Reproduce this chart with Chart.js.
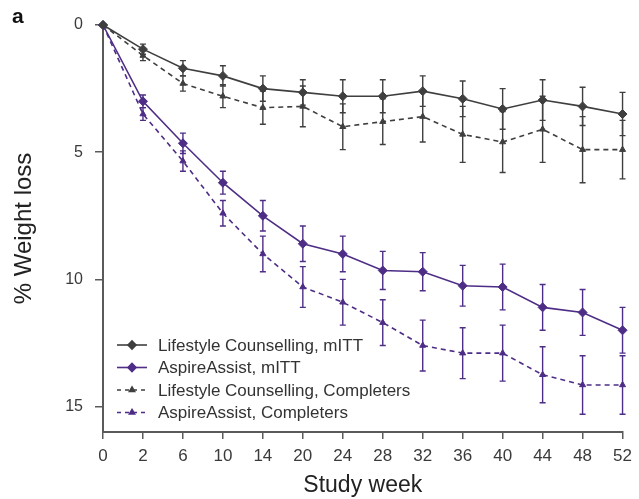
<!DOCTYPE html>
<html>
<head>
<meta charset="utf-8">
<script src="https://cdn.jsdelivr.net/npm/chart.js@4.4.1/dist/chart.umd.min.js"></script>
<style>
  html, body { margin: 0; padding: 0; background: #fff; }
  #wrap { position: relative; width: 639px; height: 499px; }
</style>
</head>
<body>
<div id="wrap"><canvas id="chart" width="639" height="499"></canvas></div>
<script>
// Study weeks are evenly spaced categories on the x axis
const weeks = ["0", "2", "6", "10", "14", "20", "24", "28", "32", "36", "40", "44", "48", "52"];
const yTicks = [0, 5, 10, 15];

// % weight loss (mean) and error bar half-heights
const lcItt = [0, 0.95, 1.7, 2.0, 2.5, 2.65, 2.8, 2.8, 2.6, 2.9, 3.3, 2.95, 3.2, 3.5];
const lcIttErr = [0, 0.2, 0.3, 0.4, 0.5, 0.5, 0.65, 0.65, 0.6, 0.7, 0.8, 0.8, 0.75, 0.85];
const aaItt = [0, 3.0, 4.65, 6.2, 7.5, 8.6, 9.0, 9.65, 9.7, 10.25, 10.3, 11.1, 11.3, 12.0];
const aaIttErr = [0, 0.25, 0.4, 0.45, 0.6, 0.7, 0.7, 0.75, 0.75, 0.8, 0.9, 0.9, 0.9, 0.9];
const lcComp = [0, 1.2, 2.3, 2.8, 3.25, 3.2, 4.0, 3.8, 3.6, 4.3, 4.6, 4.1, 4.9, 4.9];
const lcCompErr = [0, 0.2, 0.3, 0.45, 0.65, 0.8, 0.9, 0.9, 1.0, 1.1, 1.2, 1.3, 1.3, 1.15];
const aaComp = [0, 3.5, 5.35, 7.4, 9.0, 10.3, 10.9, 11.7, 12.6, 12.9, 12.9, 13.75, 14.15, 14.15];
const aaCompErr = [0, 0.25, 0.4, 0.5, 0.7, 0.8, 0.9, 0.9, 1.0, 1.0, 1.1, 1.1, 1.15, 1.15];

const GREY = "#3f3f3f";
const PURPLE = "#4e2d86";
const FONT = "'Liberation Sans', Arial, Helvetica, sans-serif";

function series(label, data, err, color, style, dashed) {
  return {
    label,
    data,
    errors: err,
    borderColor: color,
    backgroundColor: color,
    pointBackgroundColor: color,
    pointBorderColor: color,
    pointStyle: style,
    pointRadius: style === "triangle" ? 3.5 : 4.5,
    pointBorderWidth: 1,
    borderWidth: 1.6,
    borderDash: dashed ? [5, 4] : [],
    tension: 0,
    fill: false,
    clip: false,
  };
}

// vertical error bars with short caps, placed through the chart's scales
const errorBars = {
  id: "errorBars",
  beforeDatasetsDraw(chart) {
    const { ctx } = chart;
    const yScale = chart.scales.y;
    chart.data.datasets.forEach((ds, i) => {
      const meta = chart.getDatasetMeta(i);
      ctx.save();
      ctx.strokeStyle = ds.borderColor;
      ctx.lineWidth = 1.4;
      meta.data.forEach((pt, j) => {
        const e = ds.errors[j];
        if (!e) return;
        const y1 = yScale.getPixelForValue(ds.data[j] - e);
        const y2 = yScale.getPixelForValue(ds.data[j] + e);
        ctx.beginPath();
        ctx.moveTo(pt.x, y1);
        ctx.lineTo(pt.x, y2);
        ctx.moveTo(pt.x - 3, y1);
        ctx.lineTo(pt.x + 3, y1);
        ctx.moveTo(pt.x - 3, y2);
        ctx.lineTo(pt.x + 3, y2);
        ctx.stroke();
      });
      ctx.restore();
    });
  },
};

// legend inside the plot: line + marker, then label; also the panel letter
const insideLegend = {
  id: "insideLegend",
  afterDraw(chart) {
    const { ctx } = chart;
    const x0 = 117, x1 = 147, tx = 158;
    let y = 345;
    ctx.save();
    chart.data.datasets.forEach((ds) => {
      ctx.strokeStyle = ds.borderColor;
      ctx.fillStyle = ds.borderColor;
      ctx.lineWidth = 1.6;
      ctx.setLineDash(ds.borderDash.length ? [4, 4] : []);
      ctx.beginPath();
      ctx.moveTo(x0, y);
      ctx.lineTo(x1, y);
      ctx.stroke();
      ctx.setLineDash([]);
      Chart.helpers.drawPoint(ctx, {
        pointStyle: ds.pointStyle,
        radius: ds.pointStyle === "triangle" ? 3 : 4,
        rotation: 0,
        borderWidth: 1,
      }, (x0 + x1) / 2, y);
      ctx.fillStyle = "#333";
      ctx.font = "17px " + FONT;
      ctx.textBaseline = "middle";
      ctx.fillText(ds.label, tx, y + 1);
      y += 22.5;
    });
    ctx.fillStyle = "#111";
    ctx.font = "bold 21px " + FONT;
    ctx.textBaseline = "alphabetic";
    ctx.fillText("a", 12, 23);
    ctx.restore();
  },
};

new Chart(document.getElementById("chart"), {
  type: "line",
  data: {
    labels: weeks,
    datasets: [
      series("Lifestyle Counselling, mITT", lcItt, lcIttErr, GREY, "rectRot", false),
      series("AspireAssist, mITT", aaItt, aaIttErr, PURPLE, "rectRot", false),
      series("Lifestyle Counselling, Completers", lcComp, lcCompErr, GREY, "triangle", true),
      series("AspireAssist, Completers", aaComp, aaCompErr, PURPLE, "triangle", true),
    ],
  },
  options: {
    responsive: false,
    animation: false,
    layout: { padding: { left: 0, right: 14, top: 25, bottom: 0 } },
    plugins: { legend: { display: false }, tooltip: { enabled: false } },
    scales: {
      x: {
        type: "category",
        offset: false,
        grid: { display: true, drawOnChartArea: false, drawTicks: true, tickLength: 7, color: "#5a5a5a", lineWidth: 1.5 },
        border: { display: true, color: "#5a5a5a", width: 2 },
        ticks: { color: "#3a3a3a", font: { family: FONT, size: 17 }, padding: 7, maxRotation: 0, autoSkip: false },
        title: { display: true, text: "Study week", color: "#222", font: { family: FONT, size: 23 }, padding: { top: 0, bottom: 0 } },
        afterFit(scale) { scale.height = 67; },
      },
      y: {
        reverse: true,
        min: 0,
        max: 16,
        afterBuildTicks(scale) { scale.ticks = yTicks.map((v) => ({ value: v })); },
        grid: { display: true, drawOnChartArea: false, drawTicks: true, tickLength: 8, color: "#5a5a5a", lineWidth: 1.5 },
        border: { display: true, color: "#5a5a5a", width: 2 },
        ticks: { color: "#3a3a3a", font: { family: FONT, size: 16 }, padding: 12 },
        title: { display: true, text: "% Weight loss", color: "#222", font: { family: FONT, size: 24 }, padding: { top: 10, bottom: 0 } },
        afterFit(scale) { scale.width = 103; },
      },
    },
  },
  plugins: [errorBars, insideLegend],
});
</script>
</body>
</html>
